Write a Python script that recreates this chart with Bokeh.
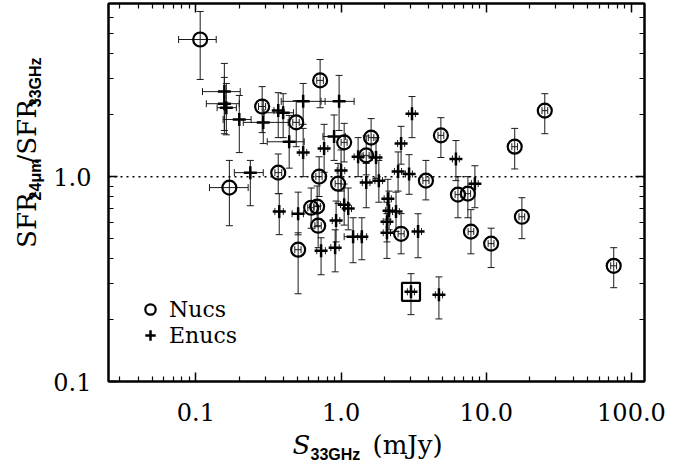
import math
from bokeh.plotting import figure
from bokeh.layouts import column, row
from bokeh.models import (ColumnDataSource, Range1d, FixedTicker, CustomJSTickFormatter,
                          LogAxis, Span, Whisker, TeeHead, Label, Legend, LegendItem)
from bokeh.embed import file_html
from bokeh.resources import INLINE

# ---------------- data ----------------
# Nucs (circles)
nuc_x = [0.107, 0.170, 0.286, 0.491, 0.717, 0.369, 0.506, 0.622, 0.684, 0.695, 0.706, 0.953, 1.05,
         1.61, 1.49, 3.84, 4.87, 2.59, 6.38, 7.47, 15.7, 25.3, 7.84, 10.8, 17.6, 75.5]
nuc_y = [4.67, 0.884, 2.20, 1.84, 2.95, 1.046, 0.440, 0.705, 0.714, 0.576, 1.00, 0.924, 1.47,
         1.55, 1.27, 0.956, 1.59, 0.526, 0.817, 0.826, 1.40, 2.10, 0.539, 0.471, 0.637, 0.367]
nuc_x_lo = [0.076, 0.124, 0.270, 0.465, 0.680, 0.350, 0.480, 0.590, 0.650, 0.660, 0.670, 0.910, 1.00,
            1.54, 1.42, 3.66, 4.65, 2.47, 6.10, 7.10, 15.0, 24.2, 7.50, 10.3, 16.8, 72.0]
nuc_x_hi = [0.138, 0.229, 0.302, 0.515, 0.755, 0.390, 0.530, 0.650, 0.720, 0.730, 0.740, 1.00, 1.10,
            1.68, 1.56, 4.03, 5.10, 2.72, 6.70, 7.80, 16.4, 26.5, 8.20, 11.3, 18.4, 79.0]
nuc_y_lo = [2.98, 0.576, 1.64, 1.40, 2.17, 0.826, 0.268, 0.56, 0.57, 0.45, 0.80, 0.74, 1.18,
            1.25, 1.02, 0.77, 1.24, 0.42, 0.63, 0.63, 1.09, 1.62, 0.42, 0.36, 0.498, 0.287]
nuc_y_hi = [6.40, 1.20, 2.75, 2.35, 3.73, 1.29, 0.532, 0.88, 0.90, 0.72, 1.25, 1.16, 1.82,
            1.92, 1.58, 1.20, 1.94, 0.66, 1.00, 1.00, 1.72, 2.54, 0.69, 0.56, 0.789, 0.450]

# Enucs (crosses)
enu_x = [0.157, 0.157, 0.162, 0.199, 0.291, 0.369, 0.399, 0.548, 0.969, 0.439, 0.548, 0.764, 0.895,
         0.237, 0.375, 0.506, 0.728, 0.910, 0.924, 1.00, 1.05, 1.12, 1.21, 1.39, 1.31, 1.74, 1.49,
         1.82, 2.59, 3.08, 6.18, 2.47, 2.94, 8.35, 2.10, 2.14, 2.39, 2.07, 2.07, 3.39, 3.03, 4.72]
enu_y = [2.60, 2.27, 2.17, 1.90, 1.84, 2.10, 2.05, 2.33, 2.33, 1.48, 1.31, 1.37, 1.57,
         1.046, 0.675, 0.659, 0.435, 0.450, 0.610, 1.07, 0.730, 0.698, 0.509, 0.509, 1.25, 1.24, 0.935,
         0.956, 1.45, 2.03, 1.22, 1.06, 1.03, 0.924, 0.780, 0.682, 0.675, 0.603, 0.532, 0.539, 0.274, 0.265]
enu_x_lo = [0.111, 0.118, 0.140, 0.154, 0.212, 0.345, 0.295, 0.387, 0.728, 0.310, 0.515, 0.720, 0.750,
            0.184, 0.350, 0.460, 0.680, 0.850, 0.870, 0.940, 0.990, 1.06, 1.05, 1.30, 1.23, 1.64, 1.40,
            1.71, 2.45, 2.92, 5.85, 2.33, 2.78, 7.90, 1.98, 2.02, 2.26, 1.95, 1.95, 3.20, 2.86, 4.46]
enu_x_hi = [0.202, 0.199, 0.190, 0.240, 0.432, 0.395, 0.470, 0.776, 1.23, 0.557, 0.580, 0.810, 1.07,
            0.291, 0.400, 0.550, 0.780, 0.970, 0.980, 1.06, 1.11, 1.18, 1.37, 1.50, 1.39, 1.85, 1.58,
            1.93, 2.74, 3.25, 6.52, 2.61, 3.10, 8.80, 2.22, 2.26, 2.52, 2.19, 2.19, 3.58, 3.20, 5.00]
enu_y_lo = [1.62, 1.68, 1.60, 1.31, 1.45, 1.55, 1.55, 1.80, 1.68, 1.10, 1.00, 1.05, 1.20,
            0.721, 0.521, 0.520, 0.332, 0.343, 0.480, 0.850, 0.580, 0.550, 0.380, 0.393, 1.00, 0.980, 0.705,
            0.750, 1.15, 1.55, 0.956, 0.850, 0.820, 0.705, 0.620, 0.550, 0.540, 0.480, 0.399, 0.402, 0.212, 0.202]
enu_y_hi = [3.57, 3.05, 2.85, 2.49, 2.35, 2.57, 2.54, 2.85, 3.12, 1.99, 1.72, 1.80, 2.00,
            1.20, 0.826, 0.840, 0.503, 0.550, 0.760, 1.35, 0.920, 0.880, 0.630, 0.630, 1.55, 1.55, 1.16,
            1.20, 1.76, 2.46, 1.50, 1.32, 1.28, 1.13, 0.970, 0.850, 0.840, 0.750, 0.660, 0.659, 0.336, 0.324]

# highlighted source (boxed)
box_x = [3.03]
box_y = [0.274]

x_major = [0.1, 1.0, 10.0, 100.0]
y_major = [0.1, 1.0, 10.0]

# ---------------- layout geometry ----------------
W, H = 694, 466
YT_W = 50            # strip holding the y-axis title
XT_H = 36            # strip holding the x-axis title
PW, PH = W - YT_W, H - XT_H
FL, FR, FT, FB = 108, 644, 3, 381   # frame edges in page pixels

p = figure(width=PW, height=PH, x_axis_type="log", y_axis_type="log",
           x_range=Range1d(0.025, 123), y_range=Range1d(0.1, 7.0),
           output_backend="svg", toolbar_location=None,
           min_border_left=FL - YT_W, min_border_right=W - FR,
           min_border_top=FT, min_border_bottom=PH - FB)
p.background_fill_color = "white"
p.border_fill_color = "white"
p.xgrid.visible = False
p.ygrid.visible = False
p.outline_line_color = "black"
p.outline_line_width = 2

def minors(lo_exp, hi_exp):
    return [m * 10.0 ** e for e in range(lo_exp, hi_exp) for m in range(2, 10)]

xt = FixedTicker(ticks=x_major, minor_ticks=minors(-2, 3))
yt = FixedTicker(ticks=y_major, minor_ticks=minors(-2, 2))
fmt = CustomJSTickFormatter(code="return tick.toFixed(1);")
blank = CustomJSTickFormatter(code="return '';")

TICKFONT = "DejaVu Serif"

def style_axis(ax, ticker, formatter, show_labels):
    ax.ticker = ticker
    ax.formatter = formatter
    ax.axis_line_width = 2
    ax.axis_line_color = "black"
    ax.major_tick_in = 9
    ax.major_tick_out = 0
    ax.minor_tick_in = 5
    ax.minor_tick_out = 0
    ax.major_tick_line_width = 1.5
    ax.minor_tick_line_width = 1.2
    ax.major_tick_line_color = "black"
    ax.minor_tick_line_color = "black"
    if show_labels:
        ax.major_label_text_font = TICKFONT
        ax.major_label_text_font_size = "24px"
        ax.major_label_text_color = "black"
    else:
        ax.major_label_text_font_size = "0px"
        ax.major_label_standoff = 0
        ax.axis_label_standoff = 0

style_axis(p.xaxis[0], xt, fmt, True)
style_axis(p.yaxis[0], yt, fmt, True)
p.xaxis[0].major_label_standoff = 21
p.yaxis[0].major_label_standoff = 17

top = LogAxis()
style_axis(top, xt, blank, False)
p.add_layout(top, "above")
right = LogAxis()
style_axis(right, yt, blank, False)
p.add_layout(right, "right")

# dotted unity line
p.add_layout(Span(location=1.0, dimension="width", line_color="black",
                  line_width=1.5, line_dash="2 4"))

nuc_src = ColumnDataSource(dict(x=nuc_x, y=nuc_y, xlo=nuc_x_lo, xhi=nuc_x_hi,
                                ylo=nuc_y_lo, yhi=nuc_y_hi))
enu_src = ColumnDataSource(dict(x=enu_x, y=enu_y, xlo=enu_x_lo, xhi=enu_x_hi,
                                ylo=enu_y_lo, yhi=enu_y_hi))

EB = "#1a1a1a"
for src in (nuc_src, enu_src):
    p.add_layout(Whisker(source=src, base="x", lower="ylo", upper="yhi", dimension="height",
                         line_color=EB, line_width=1,
                         upper_head=TeeHead(size=7, line_color=EB, line_width=1),
                         lower_head=TeeHead(size=7, line_color=EB, line_width=1)))
    p.add_layout(Whisker(source=src, base="y", lower="xlo", upper="xhi", dimension="width",
                         line_color=EB, line_width=1,
                         upper_head=TeeHead(size=7, line_color=EB, line_width=1),
                         lower_head=TeeHead(size=7, line_color=EB, line_width=1)))

r_nuc = p.scatter("x", "y", source=nuc_src, marker="circle", size=14, fill_color=None,
                  line_color="black", line_width=2.2)
r_enu = p.scatter("x", "y", source=enu_src, marker="cross", size=13,
                  line_color="black", line_width=2.5)
p.scatter(box_x, box_y, marker="square", size=18, fill_color=None,
          line_color="black", line_width=2.2)

legend = Legend(items=[LegendItem(label="Nucs", renderers=[r_nuc]),
                       LegendItem(label="Enucs", renderers=[r_enu])],
                location=(27, 33), orientation="vertical",
                glyph_width=30, glyph_height=26, label_height=26, spacing=0,
                padding=0, margin=0, label_standoff=4,
                border_line_color=None, background_fill_alpha=0,
                label_text_font=TICKFONT, label_text_font_size="22px",
                label_text_color="black")
p.add_layout(legend)

# ---------------- axis-title strips (text pieces with subscripts) ----------------
MAINF = "DejaVu Serif"
SUBF = "Liberation Sans"

def strip(w, h):
    f = figure(width=w, height=h, x_range=Range1d(0, w), y_range=Range1d(0, h),
               output_backend="svg", toolbar_location=None,
               x_axis_location=None, y_axis_location=None,
               min_border=0, min_border_left=0, min_border_right=0,
               min_border_top=0, min_border_bottom=0)
    f.outline_line_color = None
    f.xgrid.visible = False
    f.ygrid.visible = False
    f.background_fill_color = "white"
    f.border_fill_color = "white"
    return f

def lab(f, h, text, cx, cy, font, size, style="normal", angle=0.0):
    # cx, cy: anchor inside the strip, measured from its top-left corner
    f.add_layout(Label(x=cx, y=h - cy, text=text, text_font=font, text_font_size=f"{size}px",
                       text_font_style=style, angle=angle, text_color="black",
                       text_align="left", text_baseline="alphabetic"))

# y title strip: page x 0..YT_W, page y 0..PH
ys = strip(YT_W, PH)
A = math.pi / 2
lab(ys, PH, "SFR", 26, 278, MAINF, 26, angle=A)
lab(ys, PH, "24\u03bcm", 35, 224, SUBF, 16, "bold", angle=A)
lab(ys, PH, "/", 26, 182, MAINF, 26, angle=A)
lab(ys, PH, "SFR", 26, 172, MAINF, 26, angle=A)
lab(ys, PH, "33GHz", 35, 118, SUBF, 16, "bold", angle=A)

# x title strip: page x 0..W, page y PH..H
xs = strip(W, XT_H)
lab(xs, XT_H, "S", 292, 444 - PH, MAINF, 26, "italic")
lab(xs, XT_H, "33GHz", 310, 454 - PH, SUBF, 16, "bold")
lab(xs, XT_H, "(mJy)", 372, 444 - PH, MAINF, 26)

layout = column(row(ys, p, spacing=0), xs, spacing=0)
open("out.html", "w").write(file_html(layout, INLINE))
